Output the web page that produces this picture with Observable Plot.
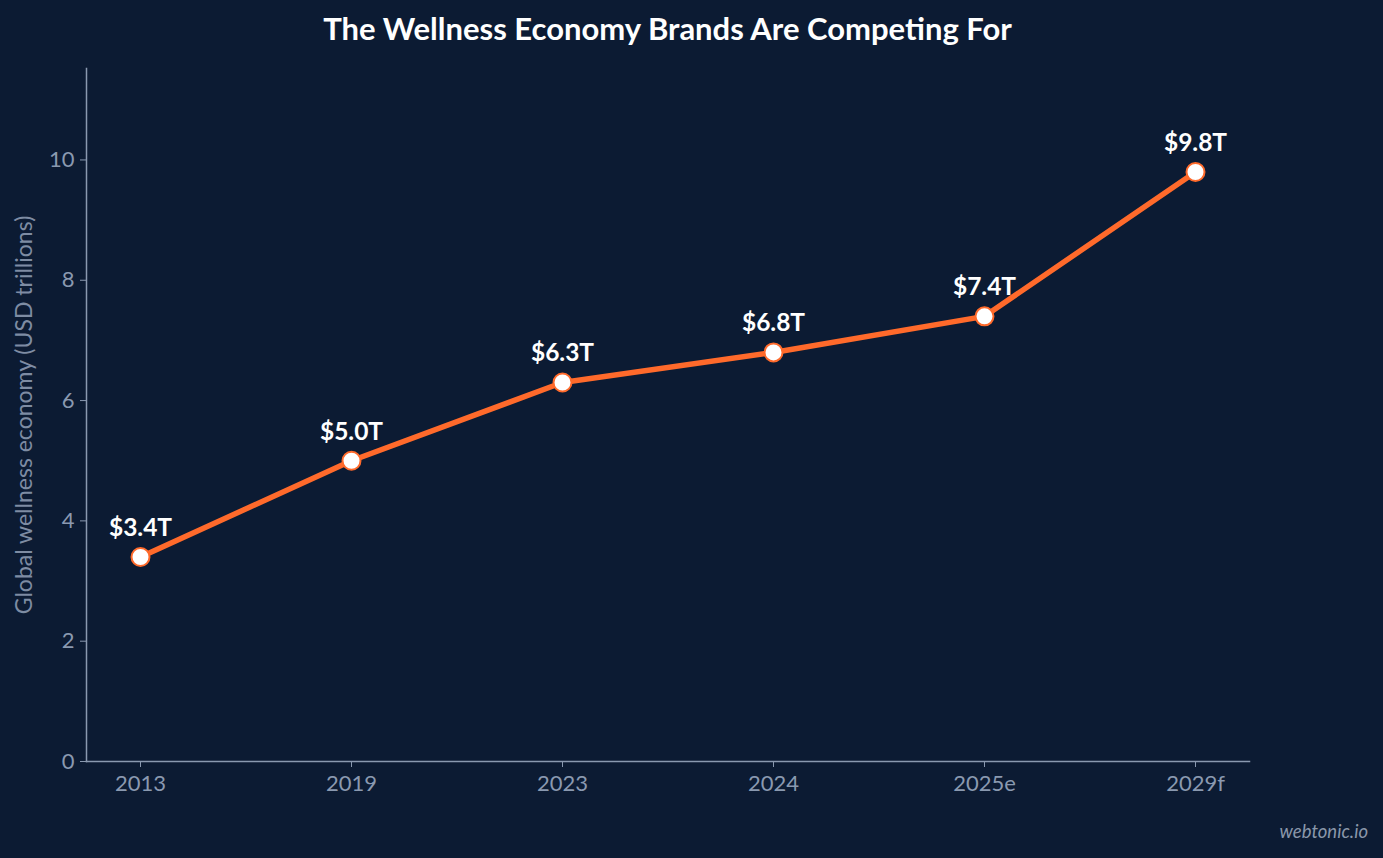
<!DOCTYPE html>
<html>
<head>
<meta charset="utf-8">
<script src="https://cdn.jsdelivr.net/npm/d3@7"></script>
<script src="https://cdn.jsdelivr.net/npm/@observablehq/plot@0.6"></script>
<style>
  html, body { margin: 0; padding: 0; background: #0c1b33; width: 1383px; height: 858px; overflow: hidden; font-family: Lato, sans-serif; }
  #title { position: absolute; left: 0; top: 0; width: 1335px; height: 60px; text-align: center; color: #ffffff; font-weight: bold; font-size: 31px; line-height: 56px; }
  #chart { position: absolute; left: 0; top: 60px; }
  #mark { position: absolute; right: 15px; top: 820px; color: #8a97aa; font-style: italic; font-size: 18.5px; }
</style>
</head>
<body>
<div id="title">The Wellness Economy Brands Are Competing For</div>
<div id="chart"></div>
<div id="mark">webtonic.io</div>
<script>
const years = ["2013", "2019", "2023", "2024", "2025e", "2029f"];
const values = [3.4, 5.0, 6.3, 6.8, 7.4, 9.8];
const labels = ["$3.4T", "$5.0T", "$6.3T", "$6.8T", "$7.4T", "$9.8T"];
const yTicks = [0, 2, 4, 6, 8, 10];

const data = years.map((y, i) => ({year: y, value: values[i], label: labels[i]}));
const axisColor = "#8a99b0";
const orange = "#ff6a2b";

const chart = Plot.plot({
  width: 1383,
  height: 798,
  marginLeft: 86,
  marginRight: 134,
  marginTop: 8,
  marginBottom: 97,
  style: {background: "transparent", fontFamily: "Lato, sans-serif", fontSize: "22px", color: axisColor},
  x: {type: "point", domain: years, padding: 0.25, label: null},
  y: {domain: [0, 11.52], label: null},
  marks: [
    Plot.frame({anchor: "left", stroke: axisColor, strokeWidth: 1.5}),
    Plot.frame({anchor: "bottom", stroke: axisColor, strokeWidth: 1.5}),
    Plot.axisY({ticks: yTicks, tickSize: 6, tickPadding: 6, stroke: axisColor, fill: axisColor, fontSize: 22, label: null}),
    Plot.axisX({tickSize: 6, tickPadding: 8, stroke: axisColor, fill: axisColor, fontSize: 22, label: null}),
    Plot.text(["Global wellness economy (USD trillions)"], {frameAnchor: "left", textAnchor: "middle", dx: -62, rotate: -90, fill: "#7e8ca3", fontSize: 23}),
    Plot.line(data, {x: "year", y: "value", stroke: orange, strokeWidth: 5.5, curve: "linear"}),
    Plot.dot(data, {x: "year", y: "value", r: 9, fill: "#ffffff", stroke: orange, strokeWidth: 2}),
    Plot.text(data, {x: "year", y: "value", text: "label", dy: -29, fill: "#ffffff", fontWeight: "bold", fontSize: 24.5})
  ]
});
document.getElementById("chart").appendChild(chart);
</script>
</body>
</html>
